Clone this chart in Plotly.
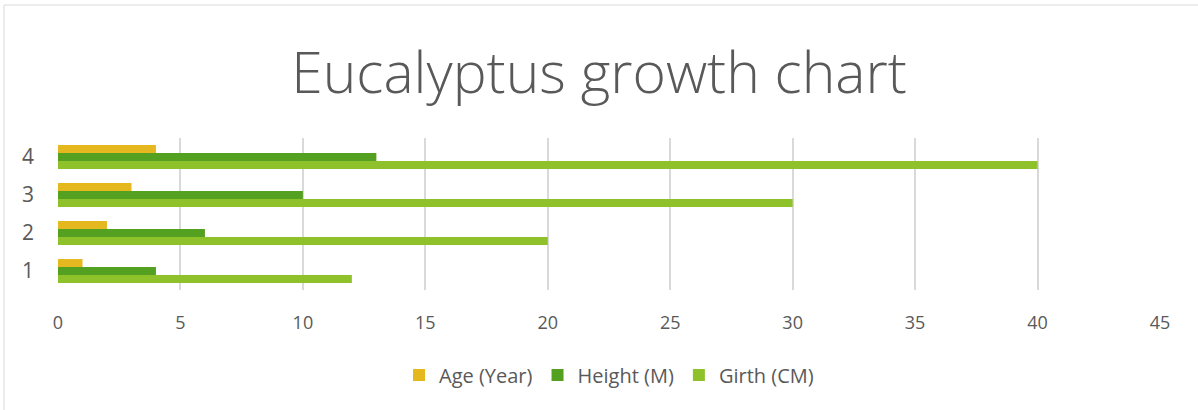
import plotly.graph_objects as go

categories = ["1", "2", "3", "4"]
age = [1, 2, 3, 4]
height = [4, 6, 10, 13]
girth = [12, 20, 30, 40]
x_ticks = [0, 5, 10, 15, 20, 25, 30, 35, 40, 45]

W, H = 1198, 410
L, R, T, B = 58, 38, 138, 120
pw, ph = W - L - R, H - T - B

def px_x(p):
    return (p - L) / pw

def px_y(p):
    return (H - B - p) / ph

fig = go.Figure()
series = [
    ("Girth (CM)", girth, "#8FC12B", 3),
    ("Height (M)", height, "#54A021", 2),
    ("Age (Year)", age, "#E6B820", 1),
]
for name, vals, col, rank in series:
    fig.add_trace(go.Bar(
        y=categories, x=vals, name=name, orientation="h",
        marker=dict(color=col, line=dict(width=0)), legendrank=rank,
    ))

fig.update_layout(
    width=W, height=H,
    margin=dict(l=L, r=R, t=T, b=B),
    paper_bgcolor="white", plot_bgcolor="white",
    barmode="group", bargap=0.37, bargroupgap=0,
    font=dict(family="Open Sans", color="#595959"),
    title=dict(text="Eucalyptus growth chart", x=0.5, xanchor="center",
               y=1 - 73 / H, yanchor="middle", yref="container",
               font=dict(size=57, color="#595959", family="Open Sans", weight=300)),
    xaxis=dict(range=[0, 45], tickvals=x_ticks, showgrid=True,
               gridcolor="#D9D9D9", gridwidth=2, zeroline=False,
               showline=False, tickfont=dict(size=18, color="#595959"),
               ticklabelstandoff=20, fixedrange=True),
    yaxis=dict(showgrid=False, zeroline=False, showline=False,
               tickfont=dict(size=21, color="#595959"),
               ticklabelstandoff=23),
    legend=dict(orientation="h", x=0.5, xanchor="center",
                y=px_y(375), yanchor="middle",
                font=dict(size=20, color="#595959"),
                itemwidth=30, traceorder="normal"),
    shapes=[dict(type="rect", xref="paper", yref="paper",
                 x0=px_x(4), x1=px_x(1210), y0=px_y(420), y1=px_y(5),
                 line=dict(color="#D9D9D9", width=1), layer="below")],
    showlegend=True,
)

fig.write_html("out.html", config={"displayModeBar": False},
               post_script="document.body.style.margin='0';document.body.style.overflow='hidden';")
